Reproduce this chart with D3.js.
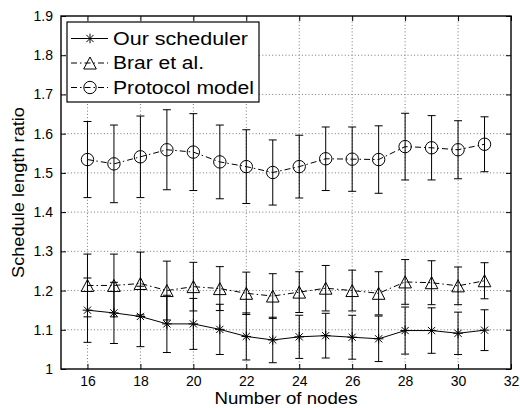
<!DOCTYPE html>
<html>
<head>
<meta charset="utf-8">
<script src="https://cdn.jsdelivr.net/npm/d3@7"></script>
<style>
    body { margin: 0; background: #fff; }
    text { font-family: "Liberation Sans", Arial, Helvetica, sans-serif; fill: #000; }
</style>
</head>
<body>
<div id="chart"></div>
<script>
// values
const nodes = [16, 17, 18, 19, 20, 21, 22, 23, 24, 25, 26, 27, 28, 29, 30, 31];

const ourMean = [1.150, 1.143, 1.134, 1.115, 1.115, 1.101, 1.083, 1.074, 1.082, 1.085, 1.081, 1.077, 1.098, 1.098, 1.091, 1.099];
const ourErr  = [0.082, 0.078, 0.077, 0.073, 0.065, 0.064, 0.060, 0.058, 0.055, 0.057, 0.056, 0.058, 0.060, 0.058, 0.054, 0.052];

const brarMean = [1.213, 1.213, 1.218, 1.200, 1.210, 1.205, 1.193, 1.186, 1.196, 1.206, 1.200, 1.193, 1.222, 1.220, 1.212, 1.225];
const brarErr  = [0.080, 0.080, 0.080, 0.075, 0.062, 0.056, 0.054, 0.057, 0.052, 0.058, 0.052, 0.055, 0.057, 0.056, 0.048, 0.046];

const protoMean = [1.534, 1.523, 1.541, 1.559, 1.553, 1.528, 1.516, 1.501, 1.516, 1.536, 1.535, 1.534, 1.567, 1.564, 1.559, 1.573];
const protoErr  = [0.097, 0.099, 0.104, 0.102, 0.098, 0.094, 0.094, 0.083, 0.080, 0.081, 0.082, 0.086, 0.085, 0.082, 0.074, 0.070];

const xTicks = [16, 18, 20, 22, 24, 26, 28, 30, 32];
const yTicks = [1, 1.1, 1.2, 1.3, 1.4, 1.5, 1.6, 1.7, 1.8, 1.9];

const seriesNames = ["Our scheduler", "Brar et al.", "Protocol model"];
const legendWidths = [135, 91, 141]; // the original text is set a bit wide

const margin = { top: 16, right: 9, bottom: 39, left: 61 };
const W = 520, H = 408;

let svg = d3.select("#chart").append("svg")
    .attr("width", W)
    .attr("height", H);

let x = d3.scaleLinear().domain([15, 32]).range([margin.left, W - margin.right]);
let y = d3.scaleLinear().domain([1, 1.9]).range([H - margin.bottom, margin.top]);

// dotted grid
let grid = svg.append("g").attr("class", "grid");
grid.selectAll(".gx")
    .data(xTicks.filter(d => d < 32))
    .enter().append("line")
    .attr("x1", d => x(d)).attr("x2", d => x(d))
    .attr("y1", y(1)).attr("y2", y(1.9))
    .attr("stroke", "#777")
    .attr("stroke-width", 1)
    .attr("stroke-dasharray", "1,2.3");
grid.selectAll(".gy")
    .data(yTicks.filter(d => d > 1 && d < 1.9))
    .enter().append("line")
    .attr("x1", x(15)).attr("x2", x(32))
    .attr("y1", d => y(d)).attr("y2", d => y(d))
    .attr("stroke", "#777")
    .attr("stroke-width", 1)
    .attr("stroke-dasharray", "1,2.3");

// axes, ticks point inward like matlab
const fmt = d => d3.format("~g")(d);
svg.append("g")
    .attr("transform", "translate(0," + y(1) + ")")
    .call(d3.axisBottom(x).tickValues(xTicks).tickSize(-5).tickPadding(7).tickFormat(fmt))
    .call(g => g.select(".domain").remove());
svg.append("g")
    .attr("transform", "translate(0," + y(1.9) + ")")
    .call(d3.axisTop(x).tickValues(xTicks).tickSize(-5).tickFormat(""))
    .call(g => g.select(".domain").remove());
svg.append("g")
    .attr("transform", "translate(" + x(15) + ",0)")
    .call(d3.axisLeft(y).tickValues(yTicks).tickSize(-5).tickPadding(8).tickFormat(fmt))
    .call(g => g.select(".domain").remove());
svg.append("g")
    .attr("transform", "translate(" + x(32) + ",0)")
    .call(d3.axisRight(y).tickValues(yTicks).tickSize(-5).tickFormat(""))
    .call(g => g.select(".domain").remove());

svg.selectAll(".tick text")
    .attr("font-size", 14)
    .style("font-family", "'Liberation Sans', Arial, sans-serif");
svg.selectAll(".tick line").attr("stroke", "#000");

// box
svg.append("rect")
    .attr("x", x(15)).attr("y", y(1.9))
    .attr("width", x(32) - x(15)).attr("height", y(1) - y(1.9))
    .attr("fill", "none")
    .attr("stroke", "#000")
    .attr("stroke-width", 1.4);

// axis titles
svg.append("text")
    .attr("x", (x(15) + x(32)) / 2)
    .attr("y", 404)
    .attr("text-anchor", "middle")
    .attr("font-size", 17)
    .attr("textLength", 143)
    .attr("lengthAdjust", "spacingAndGlyphs")
    .text("Number of nodes");
svg.append("text")
    .attr("transform", "translate(24," + y(1.45) + ") rotate(-90)")
    .attr("text-anchor", "middle")
    .attr("font-size", 17)
    .attr("textLength", 171)
    .attr("lengthAdjust", "spacingAndGlyphs")
    .text("Schedule length ratio");

// markers
function drawMarker(g, kind, cx, cy) {
    if (kind == "star") {
        let r = 4.8, q = 3.6;
        let p = "M" + (cx - r) + "," + cy + "H" + (cx + r) +
            "M" + cx + "," + (cy - r) + "V" + (cy + r) +
            "M" + (cx - q) + "," + (cy - q) + "L" + (cx + q) + "," + (cy + q) +
            "M" + (cx - q) + "," + (cy + q) + "L" + (cx + q) + "," + (cy - q);
        g.append("path").attr("d", p).attr("stroke", "#000").attr("stroke-width", 1).attr("fill", "none");
    } else if (kind == "tri") {
        let p = "M" + cx + "," + (cy - 6) + "L" + (cx + 6.3) + "," + (cy + 6) + "L" + (cx - 6.3) + "," + (cy + 6) + "Z";
        g.append("path").attr("d", p).attr("stroke", "#000").attr("stroke-width", 1).attr("fill", "none");
    } else {
        g.append("circle").attr("cx", cx).attr("cy", cy).attr("r", 6.2)
            .attr("stroke", "#000").attr("stroke-width", 1).attr("fill", "none");
    }
}

const series = [
    { mean: ourMean, err: ourErr, marker: "star", dash: null },
    { mean: brarMean, err: brarErr, marker: "tri", dash: "6,3,1.5,3" },
    { mean: protoMean, err: protoErr, marker: "circle", dash: "6,3,1.5,3" }
];

let line = d3.line().x(d => x(d[0])).y(d => y(d[1]));

series.forEach(function(s) {
    let g = svg.append("g");
    let pts = nodes.map((n, i) => [n, s.mean[i], s.err[i]]);

    g.append("path")
        .datum(pts)
        .attr("d", line)
        .attr("fill", "none")
        .attr("stroke", "#000")
        .attr("stroke-width", 1)
        .attr("stroke-dasharray", s.dash);

    // error bars with caps
    let eb = g.selectAll(".eb").data(pts).enter().append("g");
    eb.append("line")
        .attr("x1", d => x(d[0])).attr("x2", d => x(d[0]))
        .attr("y1", d => y(d[1] - d[2])).attr("y2", d => y(d[1] + d[2]))
        .attr("stroke", "#000").attr("stroke-width", 1);
    eb.append("line")
        .attr("x1", d => x(d[0]) - 4).attr("x2", d => x(d[0]) + 4)
        .attr("y1", d => y(d[1] - d[2])).attr("y2", d => y(d[1] - d[2]))
        .attr("stroke", "#000").attr("stroke-width", 1);
    eb.append("line")
        .attr("x1", d => x(d[0]) - 4).attr("x2", d => x(d[0]) + 4)
        .attr("y1", d => y(d[1] + d[2])).attr("y2", d => y(d[1] + d[2]))
        .attr("stroke", "#000").attr("stroke-width", 1);

    pts.forEach(d => drawMarker(g, s.marker, x(d[0]), y(d[1])));
});

// legend
let legend = svg.append("g").attr("class", "legend");
legend.append("rect")
    .attr("x", 67).attr("y", 22)
    .attr("width", 192).attr("height", 80)
    .attr("fill", "#fff")
    .attr("stroke", "#000")
    .attr("stroke-width", 1.2);

series.forEach(function(s, i) {
    let ly = 38.5 + i * 24.5;
    legend.append("line")
        .attr("x1", 71).attr("x2", 108)
        .attr("y1", ly).attr("y2", ly)
        .attr("stroke", "#000").attr("stroke-width", 1)
        .attr("stroke-dasharray", s.dash);
    drawMarker(legend, s.marker, 90, ly);
    legend.append("text")
        .attr("x", 113)
        .attr("y", ly)
        .attr("dy", "0.36em")
        .attr("font-size", 17.5)
        .attr("textLength", legendWidths[i])
        .attr("lengthAdjust", "spacingAndGlyphs")
        .text(seriesNames[i]);
});
</script>
</body>
</html>
